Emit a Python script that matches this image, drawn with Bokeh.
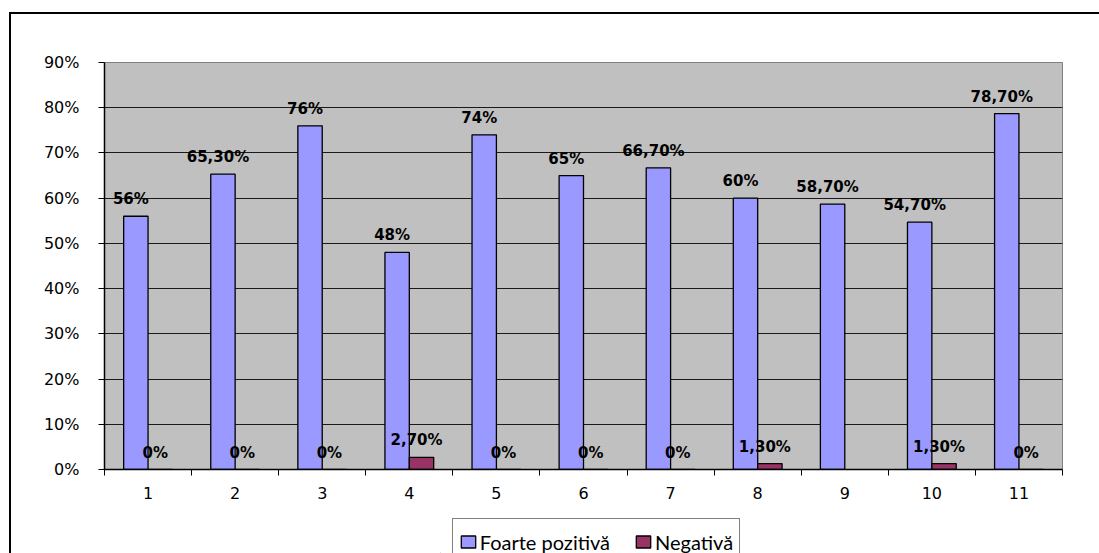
from bokeh.plotting import figure
from bokeh.models import (Range1d, FixedTicker, NumeralTickFormatter, ColumnDataSource,
                          Legend, LegendItem)
from bokeh.layouts import column
from bokeh.core.properties import value
from bokeh.embed import file_html
from bokeh.resources import INLINE
import math

categories = ["1", "2", "3", "4", "5", "6", "7", "8", "9", "10", "11"]
foarte_pozitiva = [56, 65.3, 76, 48, 74, 65, 66.7, 60, 58.7, 54.7, 78.7]
negativa = [0, 0, 0, 2.7, 0, 0, 0, 1.3, float("nan"), 1.3, 0]
y_ticks = [0, 0.1, 0.2, 0.3, 0.4, 0.5, 0.6, 0.7, 0.8, 0.9]
series_names = ["Foarte pozitivă", "Negativă"]

BLUE = "#9999FF"
MAROON = "#993366"
BAR_W = 0.28
BORDER_CSS = "linear-gradient(#000,#000) 9px {top}px / 2px 3000px no-repeat"
TOPLINE_CSS = "linear-gradient(#000,#000) 9px 12px / 3000px 2px no-repeat"


def fmt(v):
    if v == int(v):
        return f"{int(v)}%"
    return f"{v:.2f}".replace(".", ",") + "%"


xpos = [i + 1 for i in range(len(categories))]

src_a = ColumnDataSource(dict(
    x=[x - BAR_W / 2 for x in xpos],
    top=[v / 100 for v in foarte_pozitiva],
    label=[fmt(v) for v in foarte_pozitiva],
))
nx, nt, nl = [], [], []
for x, v in zip(xpos, negativa):
    if not math.isnan(v):
        nx.append(x + BAR_W / 2)
        nt.append(v / 100)
        nl.append(fmt(v))
src_b = ColumnDataSource(dict(x=nx, top=nt, label=nl))

# ---------------- main chart ----------------
p = figure(width=1099, height=515, output_backend="svg", toolbar_location=None,
           x_range=Range1d(0.5, len(categories) + 0.5), y_range=Range1d(0, 0.9),
           min_border_left=104, min_border_top=62, min_border_right=37, min_border_bottom=46,
           frame_align=False)

p.background_fill_color = "#C0C0C0"
p.border_fill_color = None
p.outline_line_color = "#808080"
p.outline_line_width = 1
p.styles = {"background": BORDER_CSS.format(top=12) + ", " + TOPLINE_CSS + ", #fff"}

p.xgrid.grid_line_color = None
p.ygrid.ticker = FixedTicker(ticks=y_ticks[1:-1])
p.ygrid.grid_line_color = "#1a1a1a"
p.ygrid.grid_line_width = 1

p.yaxis.ticker = FixedTicker(ticks=y_ticks)
p.yaxis.formatter = NumeralTickFormatter(format="0%")
p.yaxis.axis_line_color = "black"
p.yaxis.axis_line_width = 1.5
p.yaxis.major_tick_out = 6
p.yaxis.major_tick_in = 0
p.yaxis.major_tick_line_color = "black"
p.yaxis.minor_tick_line_color = None
p.yaxis.major_label_standoff = 19
p.yaxis.major_label_text_font = "DejaVu Sans"
p.yaxis.major_label_text_font_size = "16px"
p.yaxis.major_label_text_color = "black"

p.xaxis.ticker = FixedTicker(ticks=xpos, minor_ticks=[x - 0.5 for x in xpos] + [xpos[-1] + 0.5])
p.xaxis.major_label_overrides = {x: c for x, c in zip(xpos, categories)}
p.xaxis.axis_line_color = "black"
p.xaxis.axis_line_width = 1.5
p.xaxis.major_tick_line_color = None
p.xaxis.major_tick_out = 0
p.xaxis.major_tick_in = 0
p.xaxis.minor_tick_line_color = "black"
p.xaxis.minor_tick_out = 6
p.xaxis.minor_tick_in = 0
p.xaxis.major_label_standoff = 11
p.xaxis.major_label_text_font = "DejaVu Sans"
p.xaxis.major_label_text_font_size = "16px"
p.xaxis.major_label_text_color = "black"

p.vbar(x="x", top="top", width=BAR_W, bottom=0, source=src_a,
       fill_color=BLUE, line_color="black", line_width=1.3)
p.vbar(x="x", top="top", width=BAR_W, bottom=0, source=src_b,
       fill_color=MAROON, line_color="black", line_width=1.3)

for s in (src_a, src_b):
    p.text(x="x", y="top", text="label", source=s, text_align="center",
           text_baseline="alphabetic", x_offset=-5, y_offset=-17,
           text_font=value("DejaVu Sans"), text_font_style="bold",
           text_font_size="15px", text_color="black")

# ---------------- legend strip (cropped at bottom like the reference) ----------------
p2 = figure(width=1099, height=38, output_backend="svg", toolbar_location=None,
            x_axis_location=None, y_axis_location=None,
            x_range=Range1d(0, 1), y_range=Range1d(0, 1),
            min_border_left=440, min_border_right=329, min_border_top=0, min_border_bottom=0,
            frame_align=False)
p2.background_fill_color = None
p2.border_fill_color = None
p2.outline_line_color = None
p2.grid.grid_line_color = None
p2.styles = {"background": BORDER_CSS.format(top=0) + ", #fff"}

# legend swatches (one off-screen sample each, only used for the legend key)
la = p2.vbar(x=[-5], top=[0], width=0.1, fill_color=BLUE, line_color="black", line_width=1.3)
lb = p2.vbar(x=[-5], top=[0], width=0.1, fill_color=MAROON, line_color="black", line_width=1.3)

legend = Legend(items=[LegendItem(label=series_names[0], renderers=[la]),
                       LegendItem(label=series_names[1], renderers=[lb])],
                orientation="horizontal", location=(11.7, -12.7),
                glyph_width=18, glyph_height=15, label_standoff=3, spacing=24,
                padding=6, label_height=34, margin=0,
                border_line_color="black", border_line_width=1,
                background_fill_color="white", background_fill_alpha=1,
                label_text_font="Lato", label_text_font_size="20px",
                label_text_color="black")
p2.add_layout(legend)

layout = column(p, p2, spacing=0)
open("out.html", "w").write(file_html(layout, INLINE))
